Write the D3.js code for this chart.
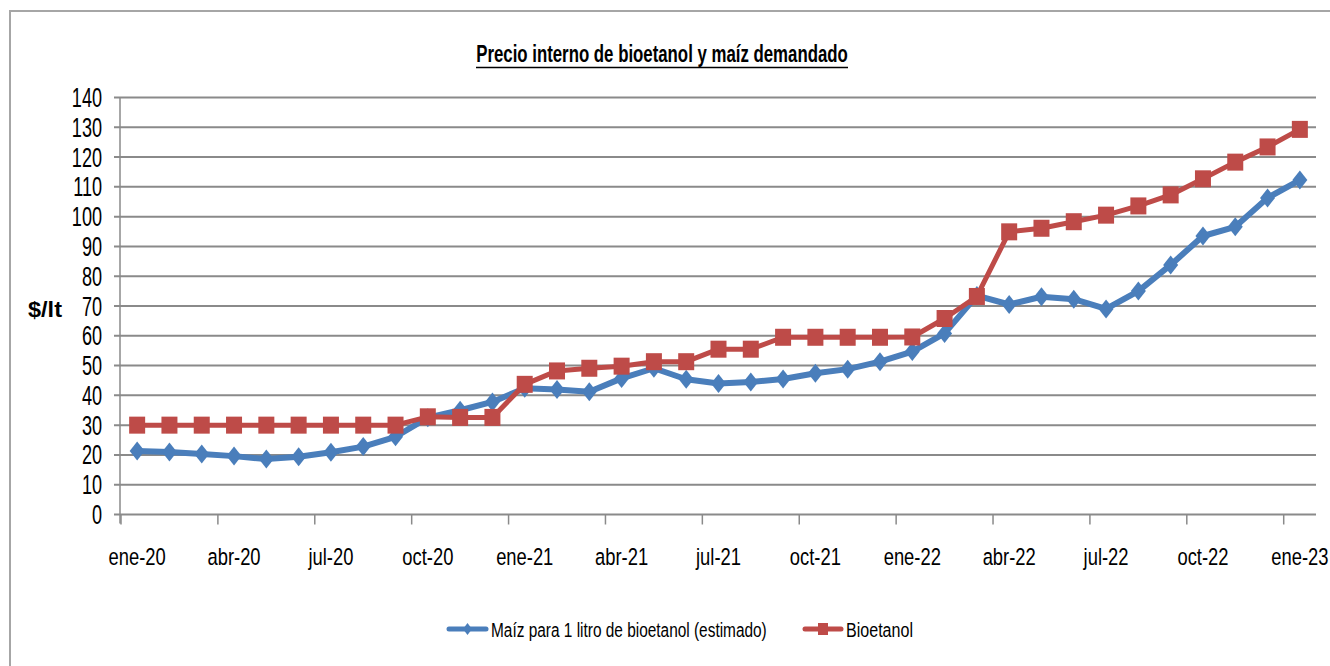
<!DOCTYPE html>
<html><head><meta charset="utf-8">
<script src="https://cdn.jsdelivr.net/npm/d3@7"></script>
<style>body{margin:0;background:#fff}svg{display:block}</style>
</head><body>
<svg id="c" width="1330" height="666"></svg>
<script>
const months = ["ene-20","feb-20","mar-20","abr-20","may-20","jun-20","jul-20","ago-20","sep-20","oct-20","nov-20","dic-20",
"ene-21","feb-21","mar-21","abr-21","may-21","jun-21","jul-21","ago-21","sep-21","oct-21","nov-21","dic-21",
"ene-22","feb-22","mar-22","abr-22","may-22","jun-22","jul-22","ago-22","sep-22","oct-22","nov-22","dic-22","ene-23"];
const tickLabels = ["ene-20","abr-20","jul-20","oct-20","ene-21","abr-21","jul-21","oct-21","ene-22","abr-22","jul-22","oct-22","ene-23"];
const maiz = [21.3,21.0,20.3,19.6,18.6,19.4,20.9,22.8,26.1,32.5,35.0,37.8,42.4,42.0,41.2,45.7,49.1,45.4,44.0,44.5,45.5,47.4,48.8,51.3,54.7,60.8,73.5,70.5,73.1,72.3,69.0,75.0,83.8,93.5,96.6,106.3,112.3];
const bioetanol = [30,30,30,30,30,30,30,30,30,32.8,32.6,32.6,43.7,48.2,49.1,49.8,51.3,51.3,55.5,55.5,59.5,59.5,59.5,59.5,59.6,65.8,73.2,94.9,96.1,98.3,100.5,103.6,107.3,112.7,118.3,123.4,129.3];
const yTicks = [0,10,20,30,40,50,60,70,80,90,100,110,120,130,140];
const seriesNames = ["Maíz para 1 litro de bioetanol (estimado)","Bioetanol"];
const title = "Precio interno de bioetanol y maíz demandado";
const yTitle = "$/lt";

const svg = d3.select("#c");
const BLUE = "#4A7EBB", RED = "#BE4B48", GRID = "#8a8a8a";
const FONT = "'Liberation Sans', Arial, sans-serif";

// outer border
svg.append("rect").attr("x",10).attr("y",11).attr("width",1340).attr("height",700)
  .attr("fill","none").attr("stroke","#a6a6a6").attr("stroke-width",2);

const x = d3.scaleBand().domain(months).range([121,1316]).padding(0);
const y = d3.scaleLinear().domain([0,140]).range([514.5,97.5]);

// gridlines
svg.append("g").selectAll("line").data(yTicks).join("line")
  .attr("x1",114).attr("x2",1316).attr("y1",d=>y(d)).attr("y2",d=>y(d))
  .attr("stroke",GRID).attr("stroke-width",2);
// y axis line
svg.append("line").attr("x1",120).attr("x2",120).attr("y1",y(140)).attr("y2",y(0)+9)
  .attr("stroke",GRID).attr("stroke-width",1.5);
// x tick marks at band starts every 3 months
const tickMonths = months.filter((m,i)=>i%3===0);
svg.append("g").selectAll("line").data(tickMonths).join("line")
  .attr("x1",d=>x(d)).attr("x2",d=>x(d)).attr("y1",y(0)).attr("y2",y(0)+10)
  .attr("stroke",GRID).attr("stroke-width",1.5);

function sText(g, txt, px, py, size, sx, anchor, weight){
  return g.append("text").attr("transform",`translate(${px},${py}) scale(${sx},1)`)
    .attr("text-anchor",anchor).attr("font-family",FONT).attr("font-size",size)
    .attr("font-weight",weight||"normal").attr("fill","#000").text(txt);
}
// fit text to a target width by horizontal scaling
function fitText(g, txt, px, py, size, width, anchor, weight){
  const t = g.append("text").attr("text-anchor",anchor).attr("font-family",FONT)
    .attr("font-size",size).attr("font-weight",weight||"normal").attr("fill","#000").text(txt);
  const w = t.node().getComputedTextLength();
  t.attr("transform",`translate(${px},${py}) scale(${width/w},1)`);
  return t;
}
// y tick labels
const gy = svg.append("g");
yTicks.forEach(t=>sText(gy, String(t), 102, y(t)+9.5, 27, 0.67, "end"));
// x tick labels
const gx = svg.append("g");
tickLabels.forEach(t=>sText(gx, t, x(t)+x.bandwidth()/2, 565, 24.5, 0.75, "middle"));

// title
const gt = svg.append("g");
fitText(gt, title, 662, 62, 23, 372, "middle", "bold");
gt.append("line").attr("x1",476).attr("x2",848).attr("y1",67.5).attr("y2",67.5)
  .attr("stroke","#000").attr("stroke-width",1.6);
// y title
fitText(svg, yTitle, 28, 317, 22, 34, "start", "bold");

const cx = i => x(months[i]) + x.bandwidth()/2;
const line = d3.line().x((d,i)=>cx(i)).y(d=>y(d));
const diamond = (px,py,w,h)=>`M${px},${py-h/2}L${px+w/2},${py}L${px},${py+h/2}L${px-w/2},${py}Z`;

// blue series
svg.append("path").datum(maiz).attr("d",line).attr("fill","none")
  .attr("stroke",BLUE).attr("stroke-width",6).attr("stroke-linejoin","round");
svg.append("g").selectAll("path").data(maiz).join("path")
  .attr("d",(d,i)=>diamond(cx(i),y(d),15,19)).attr("fill",BLUE);
// red series
svg.append("path").datum(bioetanol).attr("d",line).attr("fill","none")
  .attr("stroke",RED).attr("stroke-width",5).attr("stroke-linejoin","round");
svg.append("g").selectAll("rect").data(bioetanol).join("rect")
  .attr("x",(d,i)=>cx(i)-8).attr("y",d=>y(d)-8.5).attr("width",16).attr("height",17).attr("fill",RED);

// legend
const lg = svg.append("g");
lg.append("line").attr("x1",449).attr("x2",486).attr("y1",629).attr("y2",629)
  .attr("stroke",BLUE).attr("stroke-width",5).attr("stroke-linecap","round");
lg.append("path").attr("d",diamond(467.5,629,9,12)).attr("fill",BLUE);
fitText(lg, seriesNames[0], 491, 637, 21, 276, "start");
lg.append("line").attr("x1",805).attr("x2",841).attr("y1",629).attr("y2",629)
  .attr("stroke",RED).attr("stroke-width",5).attr("stroke-linecap","round");
lg.append("rect").attr("x",818).attr("y",623).attr("width",10).attr("height",12).attr("fill",RED);
fitText(lg, seriesNames[1], 846, 637, 21, 67, "start");
</script>
</body></html>
